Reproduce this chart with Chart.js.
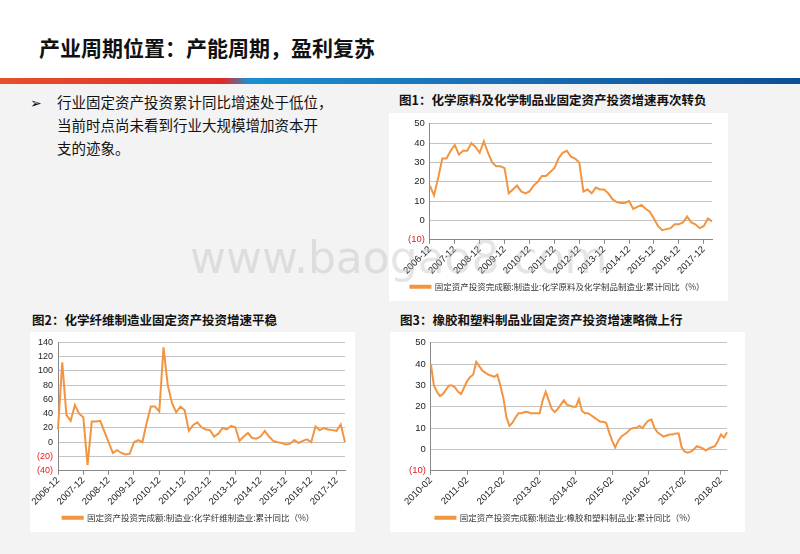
<!DOCTYPE html>
<html><head><meta charset="utf-8">
<script src="https://cdn.jsdelivr.net/npm/chart.js@4.4.0/dist/chart.umd.min.js"></script>
<style>
body{margin:0;width:800px;height:554px;overflow:hidden;font-family:"Noto Sans CJK SC",sans-serif;background:#f3f3f3;position:relative}
#hdr{position:absolute;left:0;top:0;width:800px;height:78px;background:#fff}
#bar{position:absolute;left:0;top:78px;width:800px;height:6px;background:linear-gradient(90deg,#e8502a 0%,#e02a2a 28%,#1a8fd0 31%,#1a70b8 60%,#0d4f95 100%)}
.t{position:absolute;white-space:nowrap;color:#111}
.p{position:absolute;background:#fff}
canvas{position:absolute}
</style></head><body>
<div id="hdr"></div><div id="bar"></div>
<div class="t" style="left:39px;top:32px;font-size:21px;font-weight:bold">产业周期位置：产能周期，盈利复苏</div>
<div class="t" style="left:30px;top:92px;font-size:14px">➢</div>
<div class="t" style="left:57px;top:90px;font-size:14.5px;line-height:23px">行业固定资产投资累计同比增速处于低位，<br>当前时点尚未看到行业大规模增加资本开<br>支的迹象。</div>
<div class="t" style="left:399px;top:90px;font-size:12.5px;font-weight:bold">图1：化学原料及化学制品业固定资产投资增速再次转负</div>
<div class="t" style="left:32px;top:310px;font-size:12.5px;font-weight:bold">图2：化学纤维制造业固定资产投资增速平稳</div>
<div class="t" style="left:400px;top:310px;font-size:12.5px;font-weight:bold">图3：橡胶和塑料制品业固定资产投资增速略微上行</div>
<div class="p" style="left:389px;top:113px;width:339px;height:188px"></div>
<div class="p" style="left:30px;top:332px;width:325px;height:200px"></div>
<div class="p" style="left:390px;top:332px;width:355px;height:200px"></div>
<canvas id="c1" width="339" height="188" style="left:389px;top:113px"></canvas>
<canvas id="c2" width="325" height="200" style="left:30px;top:332px"></canvas>
<canvas id="c3" width="355" height="200" style="left:390px;top:332px"></canvas>
<div class="t" style="left:190px;top:232px;font-size:44px;color:rgba(180,180,180,0.35);font-family:'DejaVu Sans'">www.baogao8.com</div>
<script>
function months(y,m,n,step){const a=[];for(let i=0;i<n;i++){const t=(m-1)+i*step;a.push((y+Math.floor(t/12))+'-'+String(t%12+1).padStart(2,'0'));}return a;}
const labels1=months(2006,12,69,2);
const values1=[18,13,22,32,32,36,39,34,36,36,40,38,35,41,35,30,28,28,27,14,16,18,15,14,15,18,20,23,23,25,27,32,35,36,33,32,30,15,16,14,17,16,16,14,11,9.5,9,9,10,6,7,8,6,4.5,1,-3,-5,-4.5,-4,-2,-2,-1,2,-1,-2,-4,-3,1,-0.5];
const labels2=months(2006,12,69,2);
const values2=[18,112,38,30,52,40,35,-32,29,29,30,15,0,-15,-11,-15,-17,-16,0,3,0,27,50,50,43,133,80,55,42,50,45,16,24,28,21,18,17,8,12,20,18,23,21,2,8,13,6,5,8,16,8,2,0,-1,-3,-2,3,-1,2,4,0,22,17,20,18,17,16,25,0];
const labels3=months(2010,2,99,1);
const values3=[40,30,27,25,26,28,30,30,29,27,26,29,32,34,35,41,39,37,36,35,34.5,34,35,30,24,15,11,12.5,15,17,17,17.5,17.5,17,17,17,17,23,27,23,19,17.5,19,21,23,21,20.5,20,20,23.5,18,17,17,16,15,14,13,13,12.5,8,4,1,4,6,7,8,9.5,10,10,11,10,12,13.5,14,10,8,7,6,6.5,7,7,7.5,7.5,1,-1,-1.5,-1,0,1.5,1,0.5,-0.5,0.5,1,1.5,4,7,5.5,8];
const legend1='固定资产投资完成额:制造业:化学原料及化学制品制造业:累计同比（%）';
const legend2='固定资产投资完成额:制造业:化学纤维制造业:累计同比（%）';
const legend3='固定资产投资完成额:制造业:橡胶和塑料制品业:累计同比（%）';
const yr1=[-10,50,10], yr2=[-40,140,20], yr3=[-10,50,10];

function mk(id,labels,data,leg,yr,mon,pad,fs){
  const show=l=>l.endsWith('-'+mon);
  new Chart(document.getElementById(id),{type:'line',
    data:{labels,datasets:[{label:leg,data,borderColor:'#f39440',backgroundColor:'#f39440',borderWidth:2,pointRadius:0,tension:0}]},
    options:{responsive:false,animation:false,layout:{padding:pad},
      plugins:{legend:{position:'bottom',labels:{boxWidth:20,boxHeight:2,font:{size:8.5,family:'Noto Sans CJK SC'},color:'#333',padding:6}},tooltip:{enabled:false}},
      scales:{
        x:{grid:{drawOnChartArea:false,tickLength:4,color:c=>show(labels[c.index])?'#888':'rgba(0,0,0,0)'},border:{color:'#888'},
          ticks:{autoSkip:false,maxRotation:45,minRotation:45,font:{size:9.5,family:'Liberation Sans'},color:'#222',padding:0,
            callback:(v,i)=>show(labels[i])?labels[i]:''}},
        y:{min:yr[0],max:yr[1],grid:{color:'#c4c4c4',drawTicks:false},border:{color:'#888'},
          ticks:{stepSize:yr[2],autoSkip:false,padding:5,font:{size:fs,family:'Liberation Sans'},color:c=>c.tick.value<0?'#e02020':'#222',
            callback:v=>v<0?'('+(-v)+')':v}}
      }}});
}
mk('c1',labels1,values1,legend1,yr1,'12',{left:14,right:16,top:4,bottom:0},9.5);
mk('c2',labels2,values2,legend2,yr2,'12',{left:2,right:10,top:2,bottom:0},9);
mk('c3',labels3,values3,legend3,yr3,'02',{left:14,right:18,top:4,bottom:0},9.5);
</script></body></html>
